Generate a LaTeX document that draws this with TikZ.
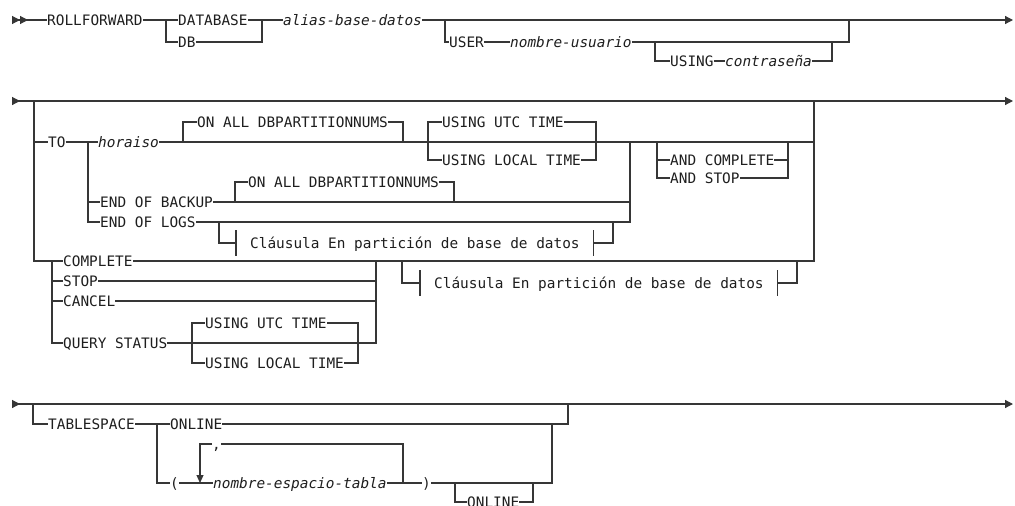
\documentclass[tikz,border=0pt]{standalone}
\usepackage{fontspec}
\usepackage{tikz}
\usetikzlibrary{arrows.meta}
\newfontfamily\railfont{DejaVu Sans Mono}
\definecolor{RailInk}{HTML}{363636}
\definecolor{WordInk}{HTML}{1E1E1E}
\tikzset{
  diagram/.style={x=1pt,y=-1pt,font=\railfont\fontsize{14.4}{17}\selectfont,text=WordInk},
  word/.style={anchor=west,inner xsep=0pt,inner ysep=0pt,text height=10.5pt,text depth=0pt},
  var/.style={word,font=\railfont\fontsize{14.4}{17}\selectfont\itshape},
  fragment/.style={word,minimum height=25pt,inner xsep=14pt},
  rail/.style={draw=RailInk,line width=1.2pt},
  railstart/.style={{Triangle[reversed,length=8pt,width=8pt]}-},
  railstarttwice/.style={{Triangle[reversed,length=8pt,width=8pt,sep=0pt]Triangle[reversed,length=8pt,width=8pt]}-},
  railend/.style={-{Triangle[length=8pt,width=8pt]}},
  loopend/.style={-{Triangle[length=8pt,width=7pt]}},
}

\begin{document}
\begin{tikzpicture}[diagram]
  \useasboundingbox (0,0) rectangle (1015,506);

  % first line
  \node[word] (roll) at (47,20) {ROLLFORWARD};
  \node[word] (database) at (178,20) {DATABASE};
  \node[word] (db) at (178,42) {DB};
  \node[var] (alias) at (283,20) {alias-base-datos};
  \node[word] (user) at (449,42) {USER};
  \node[var] (username) at (510,42) {nombre-usuario};
  \node[word] (using) at (670,61) {USING};
  \node[var] (password) at (725,61) {contraseña};
  \coordinate (start1) at (12,20);
  \coordinate (dbSplit) at (166,20);
  \coordinate (dbJoin) at (262,20);
  \coordinate (userSplit) at (445,20);
  \coordinate (usingSplit) at (655,42);
  \coordinate (usingJoin) at (832,42);
  \coordinate (userJoin) at (849,20);
  \coordinate (end1) at (1013,20);

  \draw[rail,railstarttwice] (start1) -- (roll.west);
  \draw[rail] (roll.east) -- (dbSplit) -- (database.west);
  \draw[rail] (dbSplit) |- (db.west);
  \draw[rail] (database.east) -- (dbJoin) -- (alias.west);
  \draw[rail] (db.east) -| (dbJoin);
  \draw[rail,railend] (alias.east) -- (end1);
  \draw[rail] (userSplit) |- (user.west);
  \draw[rail] (user.east) -- (username.west);
  \draw[rail] (username.east) -| (userJoin);
  \draw[rail] (usingSplit) |- (using.west);
  \draw[rail] (using.east) -- (password.west);
  \draw[rail] (password.east) -| (usingJoin);

  % second line
  \node[word] (to) at (48,142) {TO};
  \node[var] (horaiso) at (98,142) {horaiso};
  \node[word] (onAllA) at (197,122) {ON ALL DBPARTITIONNUMS};
  \node[word] (utcA) at (442,122) {USING UTC TIME};
  \node[word] (localA) at (442,160) {USING LOCAL TIME};
  \node[word] (endBackup) at (100,202) {END OF BACKUP};
  \node[word] (onAllB) at (248,182) {ON ALL DBPARTITIONNUMS};
  \node[word] (endLogs) at (100,222) {END OF LOGS};
  \node[fragment] (partA) at (236,243) {Cláusula En partición de base de datos};
  \node[word] (andComplete) at (670,160) {AND COMPLETE};
  \node[word] (andStop) at (670,178) {AND STOP};
  \node[word] (complete) at (63,261) {COMPLETE};
  \node[word] (stop) at (63,281) {STOP};
  \node[word] (cancel) at (63,301) {CANCEL};
  \node[word] (queryStatus) at (63,343) {QUERY STATUS};
  \node[word] (utcB) at (205,323) {USING UTC TIME};
  \node[word] (localB) at (205,363) {USING LOCAL TIME};
  \node[fragment] (partB) at (420,283) {Cláusula En partición de base de datos};
  \coordinate (start2) at (12,101);
  \coordinate (mainSplit) at (34,101);
  \coordinate (mainJoin) at (814,101);
  \coordinate (end2) at (1013,101);
  \coordinate (toSplit) at (88,142);
  \coordinate (onAllASplit) at (183,142);
  \coordinate (onAllAJoin) at (403,142);
  \coordinate (utcASplit) at (428,142);
  \coordinate (utcAJoin) at (596,142);
  \coordinate (toJoin) at (630,142);
  \coordinate (andSplit) at (657,142);
  \coordinate (andJoin) at (788,142);
  \coordinate (backupSplit) at (235,202);
  \coordinate (onAllBJoin) at (454,202);
  \coordinate (logsSplit) at (219,222);
  \coordinate (partAJoin) at (613,222);
  \coordinate (completeSplit) at (52,261);
  \coordinate (stopJoin) at (376,261);
  \coordinate (partBSplit) at (402,261);
  \coordinate (partBJoin) at (797,261);
  \coordinate (qsSplit) at (192,343);
  \coordinate (qsJoin) at (358,343);

  \draw[rail,railstart] (start2) -- (mainSplit);
  \draw[rail,railend] (mainSplit) -- (end2);
  \draw[rail] (mainSplit) |- (to.west);
  \draw[rail] (mainSplit) |- (complete.west);
  \draw[rail] (to.east) -- (toSplit) -- (horaiso.west);
  \draw[rail] (toSplit) |- (endBackup.west);
  \draw[rail] (toSplit) |- (endLogs.west);
  \draw[rail] (horaiso.east) -| (mainJoin);
  \draw[rail] (onAllASplit) |- (onAllA.west);
  \draw[rail] (onAllA.east) -| (onAllAJoin);
  \draw[rail] (utcASplit) |- (utcA.west);
  \draw[rail] (utcASplit) |- (localA.west);
  \draw[rail] (utcA.east) -| (utcAJoin);
  \draw[rail] (localA.east) -| (utcAJoin);
  \draw[rail] (endBackup.east) -| (toJoin);
  \draw[rail] (backupSplit) |- (onAllB.west);
  \draw[rail] (onAllB.east) -| (onAllBJoin);
  \draw[rail] (endLogs.east) -| (toJoin);
  \draw[rail] (logsSplit) |- (partA.west);
  \draw[rail] (partA.east) -| (partAJoin);
  \draw[rail] (partA.north west) -- (partA.south west);
  \draw[rail] (partA.north east) -- (partA.south east);
  \draw[rail] (andSplit) |- (andComplete.west);
  \draw[rail] (andSplit) |- (andStop.west);
  \draw[rail] (andComplete.east) -| (andJoin);
  \draw[rail] (andStop.east) -| (andJoin);
  \draw[rail] (complete.east) -| (mainJoin);
  \draw[rail] (completeSplit) |- (stop.west);
  \draw[rail] (completeSplit) |- (cancel.west);
  \draw[rail] (completeSplit) |- (queryStatus.west);
  \draw[rail] (stop.east) -| (stopJoin);
  \draw[rail] (cancel.east) -| (stopJoin);
  \draw[rail] (queryStatus.east) -| (stopJoin);
  \draw[rail] (qsSplit) |- (utcB.west);
  \draw[rail] (qsSplit) |- (localB.west);
  \draw[rail] (utcB.east) -| (qsJoin);
  \draw[rail] (localB.east) -| (qsJoin);
  \draw[rail] (partBSplit) |- (partB.west);
  \draw[rail] (partB.east) -| (partBJoin);
  \draw[rail] (partB.north west) -- (partB.south west);
  \draw[rail] (partB.north east) -- (partB.south east);

  % third line
  \node[word] (tablespace) at (48,424) {TABLESPACE};
  \node[word] (onlineA) at (170,424) {ONLINE};
  \node[word] (openParen) at (170,483) {(};
  \node[var] (spaceName) at (213,483) {nombre-espacio-tabla};
  \node[word] (separator) at (212,444) {,};
  \node[word] (closeParen) at (422,483) {)};
  \node[word] (onlineB) at (467,502) {ONLINE};
  \coordinate (start3) at (12,404);
  \coordinate (tsSplit) at (33,404);
  \coordinate (tsJoin) at (568,404);
  \coordinate (end3) at (1013,404);
  \coordinate (tsKind) at (157,424);
  \coordinate (onlineJoin) at (552,424);
  \coordinate (loopDown) at (200,483);
  \coordinate (loopUp) at (403,483);
  \coordinate (onlineBSplit) at (455,483);
  \coordinate (onlineBJoin) at (533,483);

  \draw[rail,railstart] (start3) -- (tsSplit);
  \draw[rail,railend] (tsSplit) -- (end3);
  \draw[rail] (tsSplit) |- (tablespace.west);
  \draw[rail] (tablespace.east) -- (tsKind) -- (onlineA.west);
  \draw[rail] (onlineA.east) -- (onlineJoin) -| (tsJoin);
  \draw[rail] (tsKind) |- (openParen.west);
  \draw[rail] (openParen.east) -- (spaceName.west);
  \draw[rail] (spaceName.east) -- (closeParen.west);
  \draw[rail] (loopUp) |- (separator.east);
  \draw[rail,loopend] (separator.west) -| (loopDown);
  \draw[rail] (closeParen.east) -| (onlineJoin);
  \draw[rail] (onlineBSplit) |- (onlineB.west);
  \draw[rail] (onlineB.east) -| (onlineBJoin);
\end{tikzpicture}
\end{document}
